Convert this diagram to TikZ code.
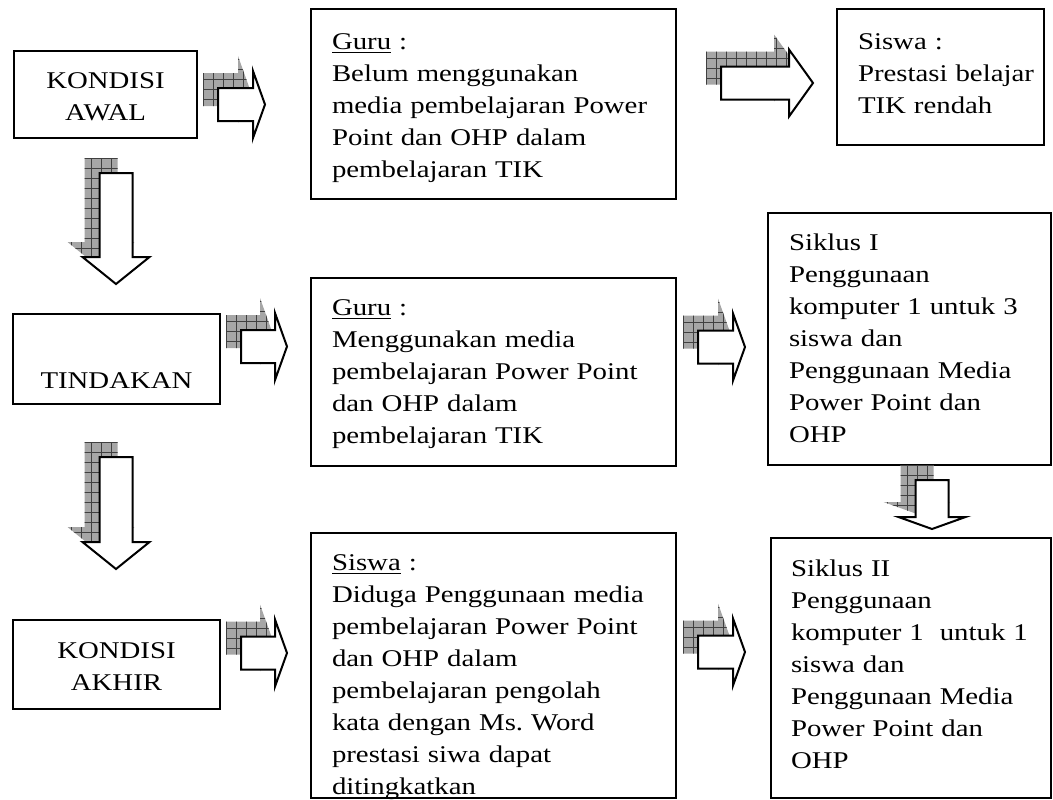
\documentclass[tikz,border=0pt]{standalone}
\usepackage{fontspec}
\setmainfont{Liberation Serif}[FakeStretch=1.2]
\usetikzlibrary{calc}
\frenchspacing
\hyphenpenalty=10000

\tikzset{
  box/.style={draw, line width=1pt, anchor=north west, inner xsep=10.5pt, inner ysep=0pt,
    align=left, font=\fontsize{12}{16}\selectfont},
  boxsize/.style n args={3}{text width=#1, text height=#2, text depth=#3},
  arrowbody/.style={draw, line width=1pt, fill=white, line join=miter},
  arrowshade/.style={fill=gray!70},
  shadegrid/.style={draw=black!75, line width=0.5pt},
}

% block arrow with a chequered shadow: position, rotation, body length, head length
\newcommand{\shadearrow}[4]{%
  \begin{scope}[shift={(#1)}]
    \begin{scope}[shift={(-15,-15)}, rotate=#2]
      \fill[arrowshade] (0,-16.5) -- (#3,-16.5) -- (#3,-33.5) -- ({#3+#4},0)
        -- (#3,33.5) -- (#3,16.5) -- (0,16.5) -- cycle;
      \clip (0,-16.5) -- (#3,-16.5) -- (#3,-33.5) -- ({#3+#4},0)
        -- (#3,33.5) -- (#3,16.5) -- (0,16.5) -- cycle;
      \draw[shadegrid, step=5pt] (-10,-40) grid ({#3+#4+10},40);
    \end{scope}
    \draw[arrowbody, rotate=#2] (0,-16.5) -- (#3,-16.5) -- (#3,-33.5) -- ({#3+#4},0)
      -- (#3,33.5) -- (#3,16.5) -- (0,16.5) -- cycle;
  \end{scope}}

\begin{document}
\begin{tikzpicture}[x=0.5pt, y=-0.5pt]
  \useasboundingbox (0,0) rectangle (1053,799);

  % left column
  \node[box, align=center, boxsize={70.5pt}{18.5pt}{25pt}] (awal) at (13,50) {KONDISI\\AWAL};
  \node[box, align=center, boxsize={82.5pt}{37pt}{8pt}] (tindakan) at (12,313) {TINDAKAN};
  \node[box, align=center, boxsize={82.5pt}{19pt}{25.5pt}] (akhir) at (12,619) {KONDISI\\AKHIR};

  % middle column
  \node[box, boxsize={161.5pt}{20pt}{75pt}] (guruawal) at (310,8)
    {\underline{Guru} :\\Belum menggunakan\\media pembelajaran Power\\Point dan OHP dalam\\pembelajaran TIK};
  \node[box, boxsize={161.5pt}{18.5pt}{75.5pt}] (gurutindakan) at (310,277)
    {\underline{Guru} :\\Menggunakan media\\pembelajaran Power Point\\dan OHP dalam\\pembelajaran TIK};
  \node[box, boxsize={161.5pt}{18.5pt}{114pt}] (siswaakhir) at (310,532)
    {\underline{Siswa} :\\Diduga Penggunaan media\\pembelajaran Power Point\\dan OHP dalam\\pembelajaran pengolah\\kata dengan Ms. Word\\prestasi siwa dapat\\ditingkatkan};

  % right column
  \node[box, boxsize={82.5pt}{20pt}{48pt}] (siswaawal) at (836,8)
    {Siswa :\\\mbox{Prestasi belajar}\\TIK rendah};
  \node[box, boxsize={120.5pt}{18.5pt}{107.5pt}] (siklus1) at (767,212)
    {Siklus I\\Penggunaan\\komputer 1 untuk 3\\siswa dan\\Penggunaan Media\\Power Point dan\\OHP};
  \node[box, inner xsep=10pt, boxsize={120pt}{19pt}{111pt}] (siklus2) at (770,537)
    {Siklus II\\Penggunaan\\komputer 1~ untuk 1\\siswa dan\\Penggunaan Media\\Power Point dan\\OHP};

  % arrows
  \shadearrow{218,104.5}{0}{35}{12}
  \shadearrow{721,83}{0}{68}{24}
  \shadearrow{241,346.5}{0}{34}{12}
  \shadearrow{698,347}{0}{35}{12}
  \shadearrow{241,653}{0}{34}{12}
  \shadearrow{698,652}{0}{35}{12}
  \shadearrow{116,173}{-90}{84}{27}
  \shadearrow{116,457}{-90}{85}{27}
  \shadearrow{932,480}{-90}{37}{12}
\end{tikzpicture}
\end{document}
